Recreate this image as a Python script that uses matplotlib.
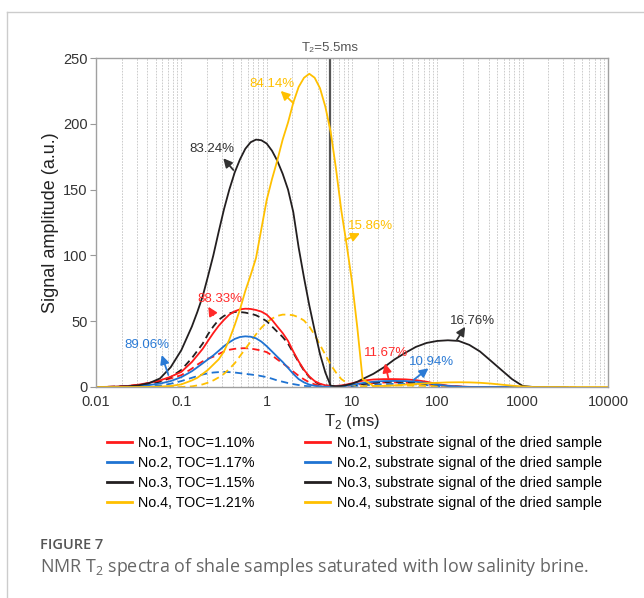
import numpy as np
import matplotlib.pyplot as plt
from matplotlib.lines import Line2D
from matplotlib.ticker import FixedLocator, NullFormatter

plt.rcParams["font.family"] = ["Liberation Sans", "DejaVu Sans"]
plt.rcParams["mathtext.fontset"] = "custom"
plt.rcParams["mathtext.rm"] = "Liberation Sans"

# T2 grid (ms), shared by all curves (denser where the peaks are)
t2 = [0.01, 0.0133, 0.0178, 0.0237, 0.0316, 0.0422, 0.0562, 0.075, 0.1,
      0.133, 0.154, 0.178, 0.205, 0.237, 0.274, 0.316, 0.365, 0.422, 0.487,
      0.562, 0.649, 0.75, 0.866, 1, 1.155, 1.33, 1.54, 1.78, 2.05, 2.37, 2.74,
      3.16, 3.65, 4.22, 4.87, 5.62, 6.49, 7.5, 8.66, 10, 11.55, 13.3,
      17.8, 23.7, 31.6, 42.2, 56.2, 75, 100, 133, 178, 237, 316, 422, 562, 750,
      1000, 1330, 1780, 2370, 3160, 4220, 5620, 7500, 10000]

# saturated samples (solid)
no1 = [0, 0.1, 0.3, 0.8, 1.8, 3.2, 5, 7.8, 11.5,
       19, 24, 29, 35, 41, 46.5, 51, 55, 57.5, 59, 59.5, 59.3, 58.5, 57.3, 55, 51,
       46, 41, 35, 27, 19.5, 13, 8, 4.5, 2.5, 1.3, 0.8, 0.8, 1.2, 1.9, 2.8, 3.8, 4.8,
       5.7, 6, 6, 5.8, 5.2, 4, 2.2, 1, 0.4, 0.1, 0, 0, 0, 0, 0, 0, 0, 0, 0]
no2 = [0, 0.05, 0.1, 0.3, 0.7, 1.5, 2.6, 4.5, 7.5,
       12, 15, 18, 21, 24, 27.5, 31, 34, 36.5, 38, 38.5, 38.2, 37, 34.5, 31, 27,
       23, 19, 14.5, 10, 6, 3.5, 1.8, 0.9, 0.4, 0.2, 0.2, 0.3, 0.6, 1, 1.6, 2.3, 3,
       4, 4.5, 4.6, 4.5, 4, 3, 1.8, 0.8, 0.3, 0, 0, 0, 0, 0, 0, 0, 0, 0, 0]
no3 = [0, 0.05, 0.2, 0.5, 1.3, 3, 6.5, 15, 28,
       46, 57, 69, 84, 100, 118, 135, 150, 163, 173, 181, 186, 188, 187.5, 185, 179.5,
       172, 162, 150, 133, 106, 83, 62, 43, 25, 11, 1, 0.5, 0.8, 1.5, 2.5, 4, 6,
       10, 15, 21, 26, 30.5, 33.5, 35, 35.5, 35, 32, 27, 20, 13, 6, 0.8, 0, 0, 0, 0]
no4 = [0, 0, 0, 0, 0, 0, 0.3, 0.8, 2,
       5, 7, 10, 13, 17, 21, 27, 36, 47, 59, 73, 85, 98, 120, 142, 158,
       172, 188, 201, 216, 228, 235, 238, 235, 227, 213, 194, 166, 134, 108, 80, 45, 6,
       0.8, 0.8, 1.2, 1.8, 2.3, 2.8, 3.2, 3.5, 3.6, 3.5, 3.2, 2.6, 1.8, 1, 0.4,
       0, 0, 0, 0, 0, 0, 0, 0]

# substrate signal of the dried samples (dashed)
no1_dry = [0, 0.1, 0.3, 0.8, 1.5, 3, 4.5, 6.5, 9,
           14, 17, 19.5, 21.5, 23, 25, 27, 28.3, 29, 29.4, 29.5, 29.2, 28.5, 27.7, 26.5, 24,
           21, 18, 15, 11.7, 8.5, 5.8, 3.5, 2, 1, 0.7, 0.5, 0.5, 0.6, 1, 1.4, 1.8, 2.3,
           3, 3.4, 3.5, 3.3, 2.8, 2, 1.2, 0.6, 0.2, 0, 0, 0, 0, 0, 0, 0, 0, 0, 0, 0]
no2_dry = [0, 0, 0.05, 0.1, 0.2, 0.5, 1, 2.5, 4.5,
           7, 8.3, 9.5, 10.4, 11, 11.3, 11.5, 11.3, 11, 10.5, 10, 9.5, 9, 8.3, 7.5, 6.3,
           5, 4, 3, 2.2, 1.5, 0.9, 0.5, 0.3, 0.2, 0.1, 0.1, 0.2, 0.3, 0.4, 0.6, 0.9, 1.2,
           1.8, 2.2, 2.4, 2.3, 2, 1.5, 0.8, 0.3, 0.1, 0, 0, 0, 0, 0, 0, 0, 0, 0, 0, 0]
no3_dry = [0, 0.1, 0.3, 0.7, 1.3, 2.3, 4, 7.5, 13,
           22, 27.5, 33, 40, 46, 51, 54, 56, 57, 57, 56.5, 55.7, 54.5, 52.5, 50, 46,
           42, 38, 33, 26, 19, 12.5, 7.5, 4, 2, 1.2, 0.8, 0.7, 0.6, 0.9, 1.2, 1.7, 2.2,
           3.2, 3.8, 4, 3.8, 3.3, 2.5, 1.5, 0.8, 0.3, 0, 0, 0, 0, 0, 0, 0, 0, 0, 0, 0]
no4_dry = [0, 0, 0, 0, 0, 0, 0, 0, 0,
           0.5, 1.2, 2, 3.3, 5, 7.3, 10, 13.8, 18, 23.5, 29, 34.5, 40, 45, 49, 52,
           54, 55, 55, 54.5, 53, 50.5, 46, 39.5, 32, 24.5, 17, 11, 6, 3.2, 1.5, 0.9, 0.6,
           0.8, 1, 1.1, 1.1, 1, 0.8, 0.5, 0.2, 0, 0, 0, 0, 0, 0, 0, 0, 0, 0, 0, 0]

labels_sat = ["No.1, TOC=1.10%", "No.2, TOC=1.17%", "No.3, TOC=1.15%", "No.4, TOC=1.21%"]
labels_dry = ["No.%d, substrate signal of the dried sample" % i for i in range(1, 5)]
colors = ["#ff1a1a", "#1f73d2", "#231f20", "#ffc000"]

# percentage annotations: text, text pos, arrow head, arrow tail, color
notes = [
    ("83.24%", (0.229, 181), (0.31, 173.8), (0.407, 164.9), "#333333"),
    ("84.14%", (1.156, 230), (1.46, 225), (2.06, 215.6), "#ffc000"),
    ("15.86%", (16.3, 122.6), (12.4, 116.8), (8.3, 111.7), "#ffc000"),
    ("88.33%", (0.284, 66.6), (0.207, 61), (0.237, 54.7), "#ff2a2a"),
    ("89.06%", (0.039, 31.9), (0.0589, 24.3), (0.0705, 9.1), "#2a7ad5"),
    ("11.67%", (24.9, 25.6), (24.4, 18), (26.7, 6.6), "#ff2a2a"),
    ("10.94%", (85.7, 19.2), (78.7, 14.2), (52.5, 5.3), "#2a7ad5"),
    ("16.76%", (259, 50.4), (212, 45.8), (169, 35.7), "#333333"),
]

fig = plt.figure(figsize=(6.44, 5.98), dpi=100)
ax = fig.add_axes([96 / 644, 1 - 387 / 598, 512 / 644, 329 / 598])

for y, c in zip([no1_dry, no2_dry, no3_dry, no4_dry], colors):
    ax.plot(t2[:len(y)], y, color=c, lw=1.3, linestyle=(0, (4, 2.5)))
for y, c in zip([no1, no2, no3, no4], colors):
    ax.plot(t2[:len(y)], y, color=c, lw=1.3, solid_joinstyle="round")

ax.axvline(5.5, color="#555555", lw=1.6, zorder=1)
ax.text(5.5, 253, "T₂=5.5ms", ha="center", va="bottom", fontsize=9.5, color="#555555")

for txt, pos, head, tail, c in notes:
    ax.annotate("", xy=head, xytext=tail,
                arrowprops=dict(arrowstyle="-|>", color=c, lw=1.3, mutation_scale=13,
                                shrinkA=0, shrinkB=0))
    ax.text(pos[0], pos[1], txt, color=c, fontsize=9.5, ha="center", va="center")

ax.set_xscale("log")
ax.set_xlim(0.01, 10000)
ax.set_ylim(0, 250)
ax.set_xticks([0.01, 0.1, 1, 10, 100, 1000, 10000])
ax.set_xticklabels(["0.01", "0.1", "1", "10", "100", "1000", "10000"])
ax.set_yticks([0, 50, 100, 150, 200, 250])
minor = [m * 10.0 ** e for e in range(-2, 4) for m in range(2, 10)]
ax.xaxis.set_minor_locator(FixedLocator(minor))
ax.xaxis.set_minor_formatter(NullFormatter())
ax.grid(True, which="both", axis="x", color="#c4c4c4", lw=0.6, linestyle=(0, (2, 1.5)))
ax.set_axisbelow(True)
ax.tick_params(axis="x", which="both", length=0, labelsize=10.5, colors="#333333", pad=6)
ax.tick_params(axis="y", length=4, width=0.8, color="#999999", labelsize=10.5,
               labelcolor="#333333", pad=2)
for s in ax.spines.values():
    s.set_color("#a0a0a0")
    s.set_linewidth(1.0)

ax.set_xlabel(r"T$_{\mathregular{2}}$ (ms)", fontsize=12, color="#222222", labelpad=2)
ax.set_ylabel("Signal amplitude (a.u.)", fontsize=13, color="#222222", labelpad=3)

handles = [Line2D([], [], color=c, lw=2) for c in colors] * 2
fig.legend(handles, labels_sat + labels_dry, ncol=2, frameon=False,
           loc="upper left", bbox_to_anchor=(107 / 644, 1 - 436 / 598),
           fontsize=10.3, handlelength=1.75, handletextpad=0.45,
           columnspacing=3.5, labelspacing=0.42, borderpad=0, borderaxespad=0)

# figure frame and caption
fig.add_artist(Line2D([7 / 644, 7 / 644], [0, 1 - 12 / 598], color="#cccccc", lw=1))
fig.add_artist(Line2D([7 / 644, 1], [1 - 12 / 598, 1 - 12 / 598], color="#cccccc", lw=1))
fig.text(40 / 644, 1 - 545 / 598, "FIGURE 7", fontsize=10.5, color="#555555",
         family=["Open Sans", "DejaVu Sans"], weight="semibold", va="center")
fig.text(40 / 644, 1 - 567 / 598,
         r"NMR T$_{\mathregular{2}}$ spectra of shale samples saturated with low salinity brine.",
         fontsize=12.9, color="#666666", family=["Open Sans", "DejaVu Sans"], va="center")

plt.savefig("out.png", dpi=100)
plt.close()
